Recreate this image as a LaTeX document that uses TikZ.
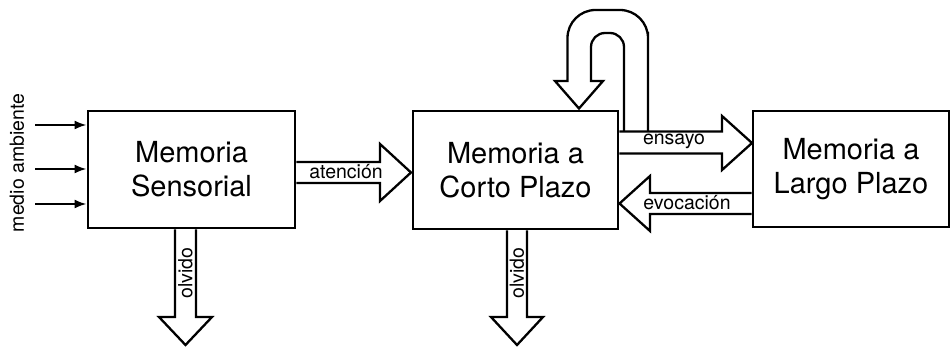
\documentclass[tikz,border=0pt]{standalone}
\usepackage{fontspec}
\setmainfont{TeX Gyre Heros}
\usetikzlibrary{arrows.meta,calc}
\begin{document}
\begin{tikzpicture}[x=1pt,y=-1pt,
 membox/.style={draw, line width=2.8pt, inner sep=0pt, align=center, font=\fontsize{29}{34}\selectfont},
 blockarrow/.style={draw, line width=2.3pt, fill=white, line join=miter},
 lbl/.style={font=\fontsize{19.5}{22}\selectfont, inner sep=0pt},
 inarrow/.style={line width=2.2pt, -{Latex[length=12pt,width=9pt]}}]
\useasboundingbox (0,0) rectangle (951,347);

% boxes
\node[membox, minimum width=207pt, minimum height=117pt] (ms) at (191.5,169.5) {Memoria\\Sensorial};
\node[membox, minimum width=205pt, minimum height=118pt] (mc) at (515.5,170) {Memoria a\\Corto Plazo};
\node[membox, minimum width=196pt, minimum height=116pt] (ml) at (851,169) {Memoria a\\Largo Plazo};

% environment inputs
\node[lbl, rotate=90] (env) at (17,163) {medio ambiente};
\coordinate (i1) at (35,125);
\coordinate (i2) at (35,169);
\coordinate (i3) at (35,204);
\draw[inarrow] (i1) -- (i1 -| ms.west);
\draw[inarrow] (i2) -- (i2 -| ms.west);
\draw[inarrow] (i3) -- (i3 -| ms.west);

% atencion
\draw[blockarrow] (ms.east |- 0,162) -- (380,162) -- (380,144) -- (411,172.5) -- (380,201) -- (380,183) -- (ms.east |- 0,183);
\node[lbl] (lat) at (346,172) {atención};

% loop (rehearsal)
\draw[blockarrow, fill=none] (624,131.5) -- (624,60) [rounded corners=14pt] -- (624,33) -- (591,33) -- (591,60) [sharp corners] -- (591,81) -- (603,81) -- (579,108.5) -- (555,81) -- (567.5,81) -- (567.5,60) [rounded corners=28pt] -- (567.5,10) -- (648,10) -- (648,60) [sharp corners] -- (648,131.5);

% ensayo
\draw[blockarrow] (mc.east |- 0,131.5) -- (722,131.5) -- (722,116) -- (752,143) -- (722,170) -- (722,153.5) -- (mc.east |- 0,153.5);
\node[lbl] (lens) at (674,141) {ensayo};

% evocacion
\draw[blockarrow] (ml.west |- 0,193) -- (650,193) -- (650,176) -- (619.5,203.5) -- (650,231) -- (650,214) -- (ml.west |- 0,214);
\node[lbl] (lev) at (687,203) {evocación};

% olvido
\draw[blockarrow] (ms.south -| 175,0) -- (175,317) -- (159,317) -- (185.5,345) -- (212,317) -- (196,317) -- (ms.south -| 196,0);
\node[lbl, rotate=90] (lo1) at (185.5,273) {olvido};
\draw[blockarrow] (mc.south -| 507,0) -- (507,317) -- (491,317) -- (517,345) -- (543,317) -- (527,317) -- (mc.south -| 527,0);
\node[lbl, rotate=90] (lo2) at (517,273) {olvido};
\end{tikzpicture}
\end{document}
